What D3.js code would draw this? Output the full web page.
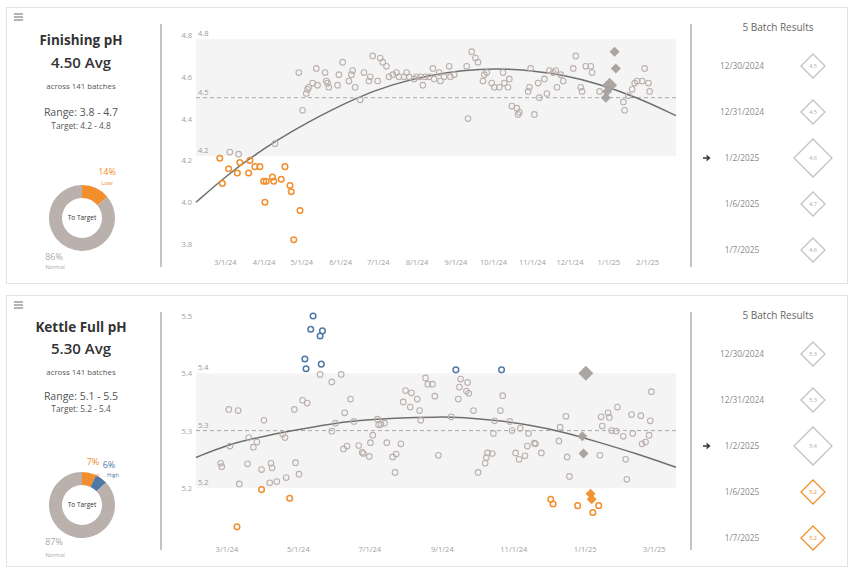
<!DOCTYPE html>
<html>
<head>
<meta charset="utf-8">
<script src="https://cdn.jsdelivr.net/npm/d3@7"></script>
<style>
  body { margin: 0; background: #fff; }
  text { font-family: "Open Sans", "Noto Sans", sans-serif; }
</style>
</head>
<body>
<div class="d3Chart"></div>
<script>
// ---- Finishing pH : batch date, pH ----
var finPoints = [
  ["2024-02-26", 4.21], ["2024-02-28", 4.09], ["2024-03-04", 4.16], ["2024-03-11", 4.14],
  ["2024-03-13", 4.19], ["2024-03-20", 4.14], ["2024-03-21", 4.20], ["2024-03-25", 4.17],
  ["2024-03-29", 4.17], ["2024-04-01", 4.10], ["2024-04-03", 4.10], ["2024-04-02", 4.00],
  ["2024-04-08", 4.12], ["2024-04-09", 4.10], ["2024-04-15", 4.11], ["2024-04-18", 4.17],
  ["2024-04-22", 4.08], ["2024-04-23", 4.05], ["2024-04-25", 3.82], ["2024-04-30", 3.96],
  ["2024-03-05", 4.24], ["2024-03-12", 4.23], ["2024-04-10", 4.28], ["2024-04-29", 4.62],
  ["2024-05-02", 4.44], ["2024-05-05", 4.52], ["2024-05-06", 4.54], ["2024-05-07", 4.55],
  ["2024-05-10", 4.57], ["2024-05-13", 4.64], ["2024-05-14", 4.56], ["2024-05-20", 4.62],
  ["2024-05-21", 4.58], ["2024-05-22", 4.57], ["2024-05-23", 4.55], ["2024-05-30", 4.56],
  ["2024-05-31", 4.61], ["2024-06-03", 4.67], ["2024-06-08", 4.58], ["2024-06-10", 4.61],
  ["2024-06-11", 4.63], ["2024-06-13", 4.55], ["2024-06-17", 4.49], ["2024-06-20", 4.62],
  ["2024-06-24", 4.58], ["2024-06-25", 4.60], ["2024-06-27", 4.70], ["2024-07-01", 4.58],
  ["2024-07-03", 4.69], ["2024-07-05", 4.67], ["2024-07-08", 4.65], ["2024-07-10", 4.60],
  ["2024-07-13", 4.61], ["2024-07-16", 4.62], ["2024-07-18", 4.60], ["2024-07-22", 4.60],
  ["2024-07-24", 4.62], ["2024-07-26", 4.60], ["2024-07-30", 4.59], ["2024-08-01", 4.60],
  ["2024-08-04", 4.60], ["2024-08-06", 4.56], ["2024-08-08", 4.60], ["2024-08-11", 4.60],
  ["2024-08-14", 4.64], ["2024-08-15", 4.59], ["2024-08-19", 4.62], ["2024-08-20", 4.58],
  ["2024-08-23", 4.60], ["2024-08-27", 4.65], ["2024-08-28", 4.60], ["2024-08-31", 4.61],
  ["2024-09-10", 4.65], ["2024-09-11", 4.40], ["2024-09-14", 4.72], ["2024-09-17", 4.69],
  ["2024-09-19", 4.67], ["2024-09-23", 4.58], ["2024-09-24", 4.61], ["2024-09-26", 4.62],
  ["2024-09-30", 4.57], ["2024-10-02", 4.55], ["2024-10-06", 4.55], ["2024-10-09", 4.62],
  ["2024-10-10", 4.57], ["2024-10-13", 4.55], ["2024-10-14", 4.59], ["2024-10-16", 4.46],
  ["2024-10-20", 4.45], ["2024-10-21", 4.42], ["2024-10-22", 4.43], ["2024-10-29", 4.53],
  ["2024-10-30", 4.55], ["2024-10-31", 4.64], ["2024-11-03", 4.42], ["2024-11-06", 4.57],
  ["2024-11-07", 4.50], ["2024-11-11", 4.59], ["2024-11-13", 4.52], ["2024-11-15", 4.63],
  ["2024-11-18", 4.62], ["2024-11-20", 4.63], ["2024-11-21", 4.55], ["2024-11-24", 4.61],
  ["2024-11-26", 4.58], ["2024-12-04", 4.64], ["2024-12-06", 4.70], ["2024-12-10", 4.55],
  ["2024-12-11", 4.53], ["2024-12-14", 4.65], ["2024-12-18", 4.65], ["2024-12-19", 4.62],
  ["2024-12-25", 4.53], ["2025-01-13", 4.48], ["2025-01-14", 4.44], ["2025-01-17", 4.51],
  ["2025-01-20", 4.54], ["2025-01-22", 4.57], ["2025-01-24", 4.58], ["2025-01-28", 4.58],
  ["2025-01-30", 4.64], ["2025-02-02", 4.57], ["2025-02-03", 4.53]
];
var finTrend = [
  ["2024-02-07", 4.00], ["2024-03-02", 4.125], ["2024-03-21", 4.21], ["2024-04-10", 4.29],
  ["2024-05-03", 4.374], ["2024-06-16", 4.507], ["2024-07-13", 4.564], ["2024-08-09", 4.605],
  ["2024-09-07", 4.632], ["2024-10-04", 4.64], ["2024-10-30", 4.632], ["2024-11-26", 4.609],
  ["2024-12-23", 4.569], ["2025-01-24", 4.502], ["2025-02-24", 4.414]
];
var finBatchDates = ["12/30/2024", "12/31/2024", "1/2/2025", "1/6/2025", "1/7/2025"];
var finBatchValues = [4.50, 4.53, 4.56, 4.72, 4.64];
var finTicksY = [3.8, 4.0, 4.2, 4.4, 4.6, 4.8];
var finDonut = [14, 86];          // low, normal
var finDonutKeys = ["low", "normal"];

// ---- Kettle Full pH ----
var ketPoints = [
  ["2024-02-25", 5.243], ["2024-02-26", 5.237], ["2024-03-03", 5.337], ["2024-03-11", 5.335],
  ["2024-03-04", 5.273], ["2024-03-12", 5.207], ["2024-03-19", 5.242], ["2024-03-20", 5.288],
  ["2024-03-24", 5.271], ["2024-03-27", 5.280], ["2024-03-31", 5.232], ["2024-04-02", 5.318],
  ["2024-04-08", 5.243], ["2024-04-09", 5.235], ["2024-04-07", 5.209], ["2024-04-13", 5.211],
  ["2024-04-18", 5.294], ["2024-04-20", 5.288], ["2024-04-21", 5.218], ["2024-04-28", 5.337],
  ["2024-04-29", 5.244], ["2024-05-02", 5.224], ["2024-05-05", 5.353], ["2024-05-09", 5.348],
  ["2024-05-20", 5.398], ["2024-05-30", 5.385], ["2024-05-30", 5.299], ["2024-06-02", 5.313],
  ["2024-06-07", 5.398], ["2024-06-10", 5.331], ["2024-06-09", 5.268], ["2024-06-12", 5.273],
  ["2024-06-15", 5.355], ["2024-06-18", 5.316], ["2024-06-22", 5.274], ["2024-06-25", 5.262],
  ["2024-06-26", 5.260], ["2024-07-01", 5.255], ["2024-07-02", 5.279], ["2024-07-04", 5.292],
  ["2024-07-08", 5.320], ["2024-07-09", 5.310], ["2024-07-11", 5.311], ["2024-07-14", 5.313],
  ["2024-07-16", 5.279], ["2024-07-21", 5.254], ["2024-07-24", 5.259], ["2024-07-23", 5.227],
  ["2024-07-28", 5.277], ["2024-07-30", 5.350], ["2024-08-01", 5.370], ["2024-08-06", 5.366],
  ["2024-08-11", 5.355], ["2024-08-13", 5.335], ["2024-08-14", 5.318], ["2024-08-05", 5.341],
  ["2024-08-18", 5.392], ["2024-08-20", 5.381], ["2024-08-24", 5.381], ["2024-08-26", 5.360],
  ["2024-08-29", 5.257], ["2024-09-09", 5.324], ["2024-09-15", 5.355], ["2024-09-17", 5.390],
  ["2024-09-16", 5.376], ["2024-09-23", 5.384], ["2024-09-22", 5.369], ["2024-09-24", 5.365],
  ["2024-09-28", 5.335], ["2024-10-02", 5.227], ["2024-10-08", 5.243], ["2024-10-09", 5.253],
  ["2024-10-10", 5.261], ["2024-10-14", 5.260], ["2024-10-15", 5.295], ["2024-10-16", 5.317],
  ["2024-10-21", 5.335], ["2024-10-23", 5.361], ["2024-10-29", 5.316], ["2024-10-31", 5.300],
  ["2024-11-03", 5.261], ["2024-11-06", 5.250], ["2024-11-11", 5.256], ["2024-11-07", 5.304],
  ["2024-11-14", 5.295], ["2024-11-13", 5.273], ["2024-11-19", 5.278], ["2024-11-20", 5.277],
  ["2024-11-25", 5.261], ["2024-12-10", 5.282], ["2024-12-11", 5.306], ["2024-12-16", 5.325],
  ["2024-12-17", 5.254], ["2024-12-19", 5.220], ["2025-01-14", 5.257], ["2025-01-15", 5.324],
  ["2025-01-16", 5.308], ["2025-01-21", 5.331], ["2025-01-22", 5.323], ["2025-01-24", 5.300],
  ["2025-01-28", 5.299], ["2025-01-29", 5.341], ["2025-02-03", 5.290], ["2025-02-05", 5.250],
  ["2025-02-06", 5.215], ["2025-02-10", 5.328], ["2025-02-11", 5.295], ["2025-02-18", 5.326],
  ["2025-02-19", 5.277], ["2025-02-22", 5.280], ["2025-02-25", 5.292], ["2025-02-26", 5.317],
  ["2025-02-27", 5.368],
  ["2024-05-14", 5.500], ["2024-05-12", 5.477], ["2024-05-22", 5.474], ["2024-05-20", 5.465],
  ["2024-05-07", 5.425], ["2024-05-08", 5.408], ["2024-05-21", 5.416], ["2024-09-13", 5.406],
  ["2024-10-22", 5.406],
  ["2024-03-31", 5.197], ["2024-04-24", 5.182], ["2024-03-10", 5.132], ["2024-12-03", 5.180],
  ["2024-12-05", 5.172], ["2024-12-26", 5.169], ["2025-01-08", 5.157], ["2025-01-13", 5.169]
];
var ketTrend = [
  ["2024-02-04", 5.253], ["2024-03-01", 5.275], ["2024-03-30", 5.289], ["2024-04-27", 5.300],
  ["2024-05-26", 5.311], ["2024-06-23", 5.318], ["2024-07-21", 5.322], ["2024-08-30", 5.324],
  ["2024-09-19", 5.323], ["2024-10-17", 5.318], ["2024-11-15", 5.310], ["2024-12-13", 5.298],
  ["2025-01-11", 5.281], ["2025-02-14", 5.260], ["2025-03-20", 5.236]
];
var ketBatchDates = ["12/30/2024", "12/31/2024", "1/2/2025", "1/6/2025", "1/7/2025"];
var ketBatchValues = [5.29, 5.26, 5.40, 5.19, 5.18];
var ketTicksY = [5.2, 5.3, 5.4, 5.5];
var ketDonut = [7, 6, 87];        // low, high, normal
var ketDonutKeys = ["low", "high", "normal"];

var colors = { normal: "#bab0ac", low: "#f28e2b", high: "#4e79a7" };
var parse = d3.timeParse("%Y-%m-%d");
var parseUS = d3.timeParse("%m/%d/%Y");
var fmtTick = d3.timeFormat("%-m/%-d/%y");

var width = 852;
var height = 569;
var svg = d3
  .select(".d3Chart")
  .append("svg")
  .attr("width", width)
  .attr("height", height)
  .style("background-color", "#fff");

var panels = [
  {
    top: 7, h: 276,
    title: "Finishing pH", avg: "4.50 Avg", count: "across 141 batches",
    range: "Range:  3.8 - 4.7", target: "Target:  4.2 - 4.8",
    textY: [45, 68, 89, 116, 129], donutY: 218,
    donut: finDonut, donutKeys: finDonutKeys,
    donutLabels: [
      { t: "14%", x: 107, y: 175, c: colors.low, s: 9 },
      { t: "Low", x: 107, y: 185, c: colors.low, s: 6 },
      { t: "86%", x: 54, y: 260, c: "#b0a8a5", s: 9 },
      { t: "Normal", x: 55, y: 269, c: "#b0a8a5", s: 5.5 }
    ],
    points: finPoints, trend: finTrend,
    xDomain: ["2024-02-07", "2025-02-24"], yDomain: [3.8, 4.8], yRange: [244, 35],
    band: [4.22, 4.78], mid: 4.5, bandLabels: ["4.8", "4.5", "4.2"],
    ticksY: finTicksY, xEvery: 1, xAxisY: 260,
    batchDates: finBatchDates, batchValues: finBatchValues, selected: 2
  },
  {
    top: 295, h: 271,
    title: "Kettle Full pH", avg: "5.30 Avg", count: "across 141 batches",
    range: "Range:  5.1 - 5.5", target: "Target:  5.2 - 5.4",
    textY: [332, 354, 375, 400, 412], donutY: 505,
    donut: ketDonut, donutKeys: ketDonutKeys,
    donutLabels: [
      { t: "7%", x: 93, y: 465, c: colors.low, s: 9 },
      { t: "6%", x: 109, y: 468, c: colors.high, s: 9 },
      { t: "Low", x: 94, y: 477, c: colors.low, s: 5.5 },
      { t: "High", x: 113, y: 477, c: colors.high, s: 5.5 },
      { t: "87%", x: 54, y: 545, c: "#b0a8a5", s: 9 },
      { t: "Normal", x: 55, y: 557, c: "#b0a8a5", s: 5.5 }
    ],
    points: ketPoints, trend: ketTrend,
    xDomain: ["2024-02-04", "2025-03-20"], yDomain: [5.1, 5.5], yRange: [545.2, 316],
    band: [5.2, 5.4], mid: 5.3, bandLabels: ["5.4", "5.3", "5.2"],
    ticksY: ketTicksY, xEvery: 2, xAxisY: 547,
    batchDates: ketBatchDates, batchValues: ketBatchValues, selected: 2
  }
];

function diamond(cx, cy, r) {
  return "M" + cx + "," + (cy - r) + "L" + (cx + r) + "," + cy + "L" + cx + "," + (cy + r) + "L" + (cx - r) + "," + cy + "Z";
}

panels.forEach(function (p) {
  var g = svg.append("g");

  // 卡片
  g.append("rect")
    .attr("x", 6.5).attr("y", p.top + 0.5)
    .attr("width", 841).attr("height", p.h)
    .attr("fill", "#fff").attr("stroke", "#e2e2e2");

  // 選單圖示
  [0, 3, 6].forEach(function (dy) {
    g.append("line")
      .attr("x1", 14).attr("x2", 23)
      .attr("y1", p.top + 7 + dy).attr("y2", p.top + 7 + dy)
      .attr("stroke", "#777").attr("stroke-width", 1.1);
  });

  // 左側文字
  var texts = [
    { t: p.title, s: 13.5, w: 700, c: "#333" },
    { t: p.avg, s: 15, w: 600, c: "#333" },
    { t: p.count, s: 7.8, w: 400, c: "#555" },
    { t: p.range, s: 10.5, w: 400, c: "#555" },
    { t: p.target, s: 8.3, w: 400, c: "#555" }
  ];
  texts.forEach(function (d, i) {
    g.append("text")
      .attr("x", 81).attr("y", p.textY[i])
      .attr("text-anchor", "middle")
      .attr("font-size", d.s).attr("font-weight", d.w)
      .attr("fill", d.c).text(d.t);
  });

  // 甜甜圈
  var pie = d3.pie().sort(null).value(function (d) { return d; })(p.donut);
  var arc = d3.arc().innerRadius(20).outerRadius(33);
  var dg = g.append("g").attr("transform", "translate(82," + p.donutY + ")");
  dg.selectAll("path").data(pie).enter().append("path")
    .attr("d", arc)
    .attr("fill", function (d, i) { return colors[p.donutKeys[i]]; });
  dg.append("text").attr("text-anchor", "middle").attr("dy", "0.35em")
    .attr("font-size", 6.5).attr("fill", "#333").text("To Target");
  p.donutLabels.forEach(function (d) {
    g.append("text").attr("x", d.x).attr("y", d.y)
      .attr("text-anchor", "middle").attr("font-size", d.s)
      .attr("fill", d.c).text(d.t);
  });

  // 分隔線
  [161, 691].forEach(function (x) {
    g.append("line")
      .attr("x1", x).attr("x2", x)
      .attr("y1", p.top + 17).attr("y2", p.top + p.h - 16)
      .attr("stroke", "#c4c4c4").attr("stroke-width", 2);
  });

  // 比例尺
  var x = d3.scaleTime().domain(p.xDomain.map(parse)).range([196, 676]);
  var y = d3.scaleLinear().domain(p.yDomain).range(p.yRange);

  // 目標區間
  g.append("rect")
    .attr("x", 196).attr("width", 480)
    .attr("y", y(p.band[1])).attr("height", y(p.band[0]) - y(p.band[1]))
    .attr("fill", "#f4f4f4");
  g.append("line")
    .attr("x1", 196).attr("x2", 676)
    .attr("y1", y(p.mid)).attr("y2", y(p.mid))
    .attr("stroke", "#a8a8a8").attr("stroke-dasharray", "4,3");
  [p.band[1], p.mid, p.band[0]].forEach(function (v, i) {
    g.append("text").attr("x", 198).attr("y", y(v) - 3)
      .attr("font-size", 7.5).attr("fill", "#999").text(p.bandLabels[i]);
  });

  // 座標軸
  var yAxis = g.append("g").attr("transform", "translate(192,0)")
    .call(d3.axisLeft(y).tickValues(p.ticksY).tickFormat(d3.format(".1f")).tickSize(0).tickPadding(0));
  var xTicks = d3.timeMonth.every(p.xEvery).range(parse("2024-03-01"), x.domain()[1]);
  var xAxis = g.append("g").attr("transform", "translate(0," + p.xAxisY + ")")
    .call(d3.axisBottom(x).tickValues(xTicks).tickFormat(fmtTick).tickSize(0).tickPadding(0));
  [yAxis, xAxis].forEach(function (a) {
    a.select(".domain").remove();
    a.selectAll("text").attr("font-size", 7.5).attr("fill", "#a0a0a0")
      .style("font-family", '"Open Sans", sans-serif');
  });

  // 趨勢線
  var line = d3.line()
    .x(function (d) { return x(parse(d[0])); })
    .y(function (d) { return y(d[1]); })
    .curve(d3.curveBasis);
  g.append("path").datum(p.trend)
    .attr("d", line).attr("fill", "none")
    .attr("stroke", "#6f6f6f").attr("stroke-width", 1.5);

  // 批次點
  function status(v) {
    return v < p.band[0] ? "low" : v > p.band[1] ? "high" : "normal";
  }
  g.append("g").selectAll("circle").data(p.points).enter().append("circle")
    .attr("cx", function (d) { return x(parse(d[0])); })
    .attr("cy", function (d) { return y(d[1]); })
    .attr("r", 2.8)
    .attr("fill", "none")
    .attr("stroke", function (d) { return colors[status(d[1])]; })
    .attr("stroke-width", function (d) { return status(d[1]) === "normal" ? 1.1 : 1.5; });

  // 最近 5 批
  g.append("g").selectAll("path").data(p.batchDates).enter().append("path")
    .attr("d", function (d, i) {
      return diamond(x(parseUS(d)), y(p.batchValues[i]), i === p.selected ? 7.5 : 5);
    })
    .attr("fill", function (d, i) {
      return status(p.batchValues[i]) === "normal" ? "#a7a09d" : colors[status(p.batchValues[i])];
    })
    .attr("opacity", 0.95);

  // 右側列表
  g.append("text").attr("x", 778).attr("y", p.top + 24)
    .attr("text-anchor", "middle").attr("font-size", 10)
    .attr("fill", "#666").text("5 Batch Results");
  p.batchDates.forEach(function (d, i) {
    var ry = p.top + 59 + i * 46;
    var v = p.batchValues[i];
    var c = status(v) === "normal" ? "#c2c2c2" : colors[status(v)];
    var r = i === p.selected ? 19 : 12;
    g.append("text").attr("x", 742).attr("y", ry).attr("dy", "0.35em")
      .attr("text-anchor", "middle").attr("font-size", 8.3)
      .attr("fill", "#8a8a8a").text(d);
    g.append("path").attr("d", diamond(813, ry, r))
      .attr("fill", "#fff").attr("stroke", c).attr("stroke-width", 1.3);
    g.append("text").attr("x", 813).attr("y", ry).attr("dy", "0.35em")
      .attr("text-anchor", "middle").attr("font-size", 5.5)
      .attr("fill", status(v) === "normal" ? "#aaa" : c).text(d3.format(".1f")(v));
    if (i === p.selected) {
      g.append("path")
        .attr("d", "M703," + ry + "L709," + ry + "M706.5," + (ry - 2.5) + "L709.5," + ry + "L706.5," + (ry + 2.5))
        .attr("fill", "none").attr("stroke", "#333").attr("stroke-width", 1.4);
    }
  });
});
</script>
</body>
</html>
